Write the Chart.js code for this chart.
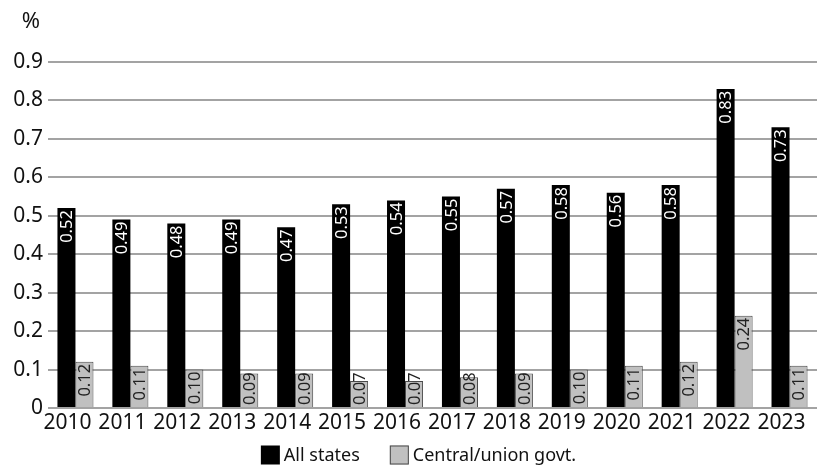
<!DOCTYPE html>
<html>
<head>
<meta charset="utf-8">
<script src="https://cdn.jsdelivr.net/npm/chart.js@4"></script>
<style>
  html, body { margin: 0; padding: 0; background: #fff; }
  #wrap { width: 817px; height: 467px; position: relative; }
</style>
</head>
<body>
<div id="wrap"><canvas id="myChart"></canvas></div>
<script>
'use strict'

// data
const years = ['2010', '2011', '2012', '2013', '2014', '2015', '2016', '2017', '2018', '2019', '2020', '2021', '2022', '2023'];
const allStates = [0.52, 0.49, 0.48, 0.49, 0.47, 0.53, 0.54, 0.55, 0.57, 0.58, 0.56, 0.58, 0.83, 0.73];
const centralGovt = [0.12, 0.11, 0.10, 0.09, 0.09, 0.07, 0.07, 0.08, 0.09, 0.10, 0.11, 0.12, 0.24, 0.11];
const yTicks = [0, 0.1, 0.2, 0.3, 0.4, 0.5, 0.6, 0.7, 0.8, 0.9];

const fontName = '"Noto Sans", "Open Sans", sans-serif';

// value labels, written upwards inside the top of each bar
const barLabels = {
  id: 'barLabels',
  afterDatasetsDraw(chart) {
    const ctx = chart.ctx;
    ctx.save();
    ctx.font = '16.5px ' + fontName;
    ctx.textBaseline = 'middle';
    ctx.textAlign = 'left';
    chart.data.datasets.forEach((ds, i) => {
      const meta = chart.getDatasetMeta(i);
      meta.data.forEach((bar, j) => {
        const txt = ds.data[j].toFixed(2);
        const w = ctx.measureText(txt).width;
        // top end of the text; keep it above the baseline for short bars
        let end = Math.min(bar.y + 2, bar.base - 2 - w);
        ctx.save();
        ctx.translate(bar.x + 1, end + w);
        ctx.rotate(-Math.PI / 2);
        ctx.fillStyle = i === 0 ? '#ffffff' : '#222222';
        ctx.fillText(txt, 0, 0);
        ctx.restore();
      });
    });
    ctx.restore();
  }
};

// unit over the value axis + legend row at the bottom
const extras = {
  id: 'extras',
  afterDraw(chart) {
    const ctx = chart.ctx;
    ctx.save();
    ctx.font = '22px ' + fontName;
    ctx.fillStyle = '#111';
    ctx.textAlign = 'center';
    ctx.textBaseline = 'middle';
    ctx.fillText('%', 31, 22);

    // legend
    ctx.font = '18px ' + fontName;
    ctx.textAlign = 'left';
    const box = 19, gap = 4, spacing = 30;
    const items = chart.data.datasets.map(ds => ({ ds, w: ctx.measureText(ds.label).width }));
    let total = items.reduce((s, it) => s + box + gap + it.w, 0) + spacing * (items.length - 1);
    let x = 418.5 - total / 2;
    const y = 455;
    items.forEach(it => {
      ctx.fillStyle = it.ds.backgroundColor;
      ctx.fillRect(x, y - box / 2, box, box);
      if (it.ds.borderWidth) {
        ctx.strokeStyle = it.ds.borderColor;
        ctx.lineWidth = 1;
        ctx.strokeRect(x + 0.5, y - box / 2 + 0.5, box - 1, box - 1);
      }
      ctx.fillStyle = '#111';
      ctx.fillText(it.ds.label, x + box + gap, y + 1);
      x += box + gap + it.w + spacing;
    });
    ctx.restore();
  }
};

const data = {
  labels: years,
  datasets: [{
    label: 'All states',
    data: allStates,
    backgroundColor: '#000000',
    borderColor: '#000000',
    borderWidth: 0
  },
  {
    label: 'Central/union govt.',
    data: centralGovt,
    backgroundColor: '#c0c0c0',
    borderColor: '#4a4a4a',
    borderWidth: 1
  }]
};

const config = {
  type: 'bar',
  data: data,
  options: {
    responsive: true,
    maintainAspectRatio: false,
    animation: false,
    layout: { padding: { top: 62, right: 0, left: 0, bottom: 0 } },
    categoryPercentage: 0.656,
    barPercentage: 1,
    plugins: {
      tooltip: { enabled: false },
      legend: { display: false }
    },
    scales: {
      x: {
        // fixed band for the year labels, legend goes underneath
        afterFit(scale) { scale.height = 59; },
        grid: { display: false, drawTicks: false },
        border: { display: false },
        ticks: {
          color: '#111',
          font: { family: fontName, size: 21 },
          padding: 2,
          labelOffset: -8,
          maxRotation: 0,
          autoSkip: false
        }
      },
      y: {
        min: 0,
        max: 0.9,
        afterFit(scale) { scale.width = 48; },
        afterBuildTicks(scale) { scale.ticks = yTicks.map(v => ({ value: v })); },
        border: { display: false },
        grid: { color: '#a3a3a3', lineWidth: 2, drawTicks: false },
        ticks: {
          color: '#111',
          font: { family: fontName, size: 21 },
          padding: 5
        }
      }
    }
  },
  plugins: [barLabels, extras]
};

let canvasChart = document.getElementById('myChart');
const myChart = new Chart(canvasChart, config);
</script>
</body>
</html>
